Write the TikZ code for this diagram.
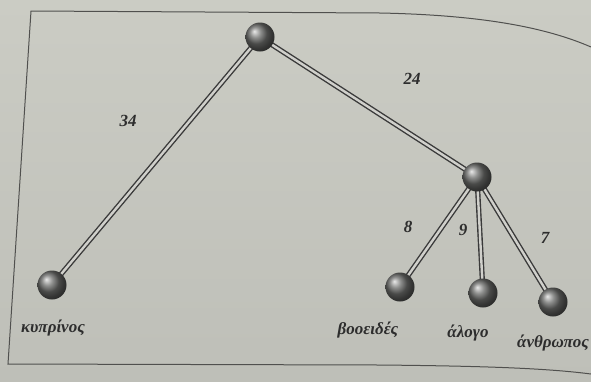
\documentclass[tikz,border=0pt]{standalone}
\usepackage{fontspec}
\setmainfont{Liberation Serif}
\pgfdeclarelayer{bg}
\pgfdeclarelayer{edges}
\pgfsetlayers{bg,edges,main}
\definecolor{papertop}{RGB}{203,204,196}
\definecolor{paperbot}{RGB}{190,191,184}
\definecolor{frameink}{RGB}{80,80,78}
\definecolor{edgedark}{RGB}{58,58,58}
\definecolor{edgelight}{RGB}{208,208,203}
\definecolor{inktext}{RGB}{45,45,45}
\definecolor{ballgray}{RGB}{105,106,104}
\tikzset{
  frameline/.style={draw=frameink, line width=1pt},
  ballnode/.style={circle, minimum size=29pt, inner sep=0pt, shading=ball, ball color=ballgray},
  branch/.style={draw=edgedark, line width=1.4pt, double=edgelight, double distance=2.4pt},
  taxon/.style={font=\fontsize{17}{19}\selectfont\bfseries\itshape, text=inktext, inner sep=1pt},
  weight/.style={font=\fontsize{17}{19}\selectfont\bfseries\itshape, text=inktext, inner sep=1pt}
}
\begin{document}
\begin{tikzpicture}[x=1pt,y=-1pt]
\useasboundingbox (0,0) rectangle (591,381);
\begin{pgfonlayer}{bg}
  \shade[top color=papertop, bottom color=paperbot] (0,0) rectangle (591,381);
  \draw[frameline] (591,47) .. controls (545,27) and (480,15) .. (380,13) -- (31,11) -- (8,364) -- (380,365) .. controls (480,366) and (545,368) .. (591,374);
\end{pgfonlayer}
% tree nodes
\node[ballnode] (root) at (260,37) {};
\node[ballnode] (inner) at (477,177) {};
\node[ballnode] (carp) at (52,285) {};
\node[ballnode] (cow) at (400,287) {};
\node[ballnode] (horse) at (483,293) {};
\node[ballnode] (human) at (553,302) {};
% branches
\begin{pgfonlayer}{edges}
  \draw[branch] (root.center) -- (carp.center);
  \draw[branch] (root.center) -- (inner.center);
  \draw[branch] (inner.center) -- (cow.center);
  \draw[branch] (inner.center) -- (horse.center);
  \draw[branch] (inner.center) -- (human.center);
\end{pgfonlayer}
% leaf labels
\node[taxon] (lcarp) at (53,328) {κυπρίνος};
\node[taxon] (lcow) at (368,330) {βοοειδές};
\node[taxon] (lhorse) at (468,333) {άλογο};
\node[taxon] (lhuman) at (553,343) {άνθρωπος};
% branch lengths
\node[weight] (w34) at (128,121) {34};
\node[weight] (w24) at (412,79) {24};
\node[weight] (w8) at (408,227) {8};
\node[weight] (w9) at (463,230) {9};
\node[weight] (w7) at (545,238) {7};
\end{tikzpicture}
\end{document}
